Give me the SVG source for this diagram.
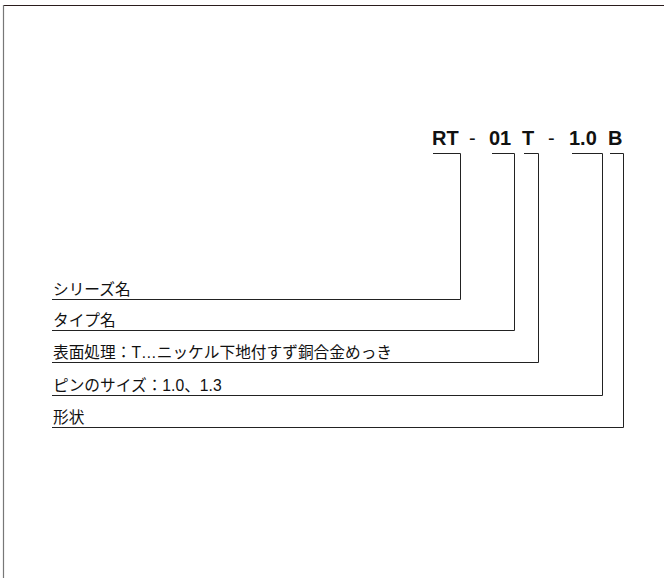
<svg xmlns="http://www.w3.org/2000/svg" width="664" height="578" viewBox="0 0 664 578">
<style>
.lbl{font-family:"Liberation Sans","Noto Sans CJK JP",sans-serif;font-size:15.7px;fill:#111}
.code{font-family:"Liberation Sans",Arial,sans-serif;font-size:20px;font-weight:bold;fill:#111}
.dash{font-family:"Liberation Sans",Arial,sans-serif;font-size:20px;fill:#111}
.ln{fill:none;stroke:#222;stroke-width:1}
</style>
<rect width="664" height="578" fill="#fff"/>
<g id="frame">
<line x1="3" y1="5.5" x2="664" y2="5.5" stroke="#2a1c1c" stroke-width="1.2"/>
<line x1="3.5" y1="5" x2="3.5" y2="578" stroke="#777" stroke-width="1.2"/>
</g>
<g id="code">
<text class="code" x="432" y="145">RT</text>
<text class="dash" x="469" y="145">-</text>
<text class="code" x="489" y="145">01</text>
<text class="code" x="522" y="145">T</text>
<text class="dash" x="548" y="145">-</text>
<text class="code" x="569" y="145">1.0</text>
<text class="code" x="608" y="145">B</text>
</g>
<g id="connectors">
<path class="ln" d="M433,153.5 H460.5 V299.5 H52"/>
<path class="ln" d="M492,153.5 H514.5 V330.5 H52"/>
<path class="ln" d="M524,153.5 H538.5 V362.5 H52"/>
<path class="ln" d="M572,153.5 H602.5 V395.5 H52"/>
<path class="ln" d="M610,153.5 H623.5 V427.5 H52"/>
</g>
<g id="series"><text class="lbl" x="53" y="295">シリーズ名</text></g>
<g id="type"><text class="lbl" x="53" y="326">タイプ名</text></g>
<g id="surface"><text class="lbl" x="53" y="358">表面処理：T…ニッケル下地付すず銅合金めっき</text></g>
<g id="pinsize"><text class="lbl" x="53" y="391">ピンのサイズ：1.0、1.3</text></g>
<g id="shape"><text class="lbl" x="53" y="423">形状</text></g>
</svg>
